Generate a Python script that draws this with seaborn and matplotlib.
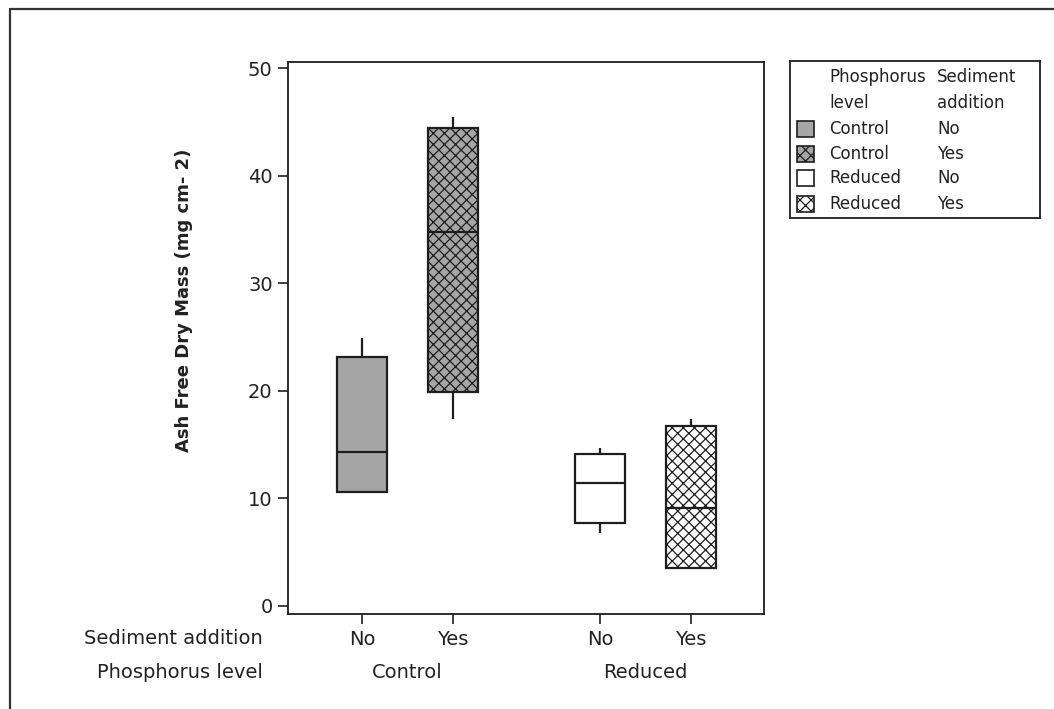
import numpy as np
import pandas as pd
import seaborn as sns
import matplotlib
matplotlib.use("Agg")
import matplotlib.pyplot as plt
from matplotlib.patches import Rectangle
from matplotlib.lines import Line2D
from matplotlib import transforms

# ---------------- data ----------------
phosphorus = ["Control", "Control", "Reduced", "Reduced"]
sediment = ["No", "Yes", "No", "Yes"]
# five-number summaries: lower whisker, Q1, median, Q3, upper whisker
control_no = [10.6, 10.6, 14.3, 23.2, 24.9]
control_yes = [17.4, 19.9, 34.8, 44.5, 45.5]
reduced_no = [6.8, 7.7, 11.4, 14.1, 14.7]
reduced_yes = [3.5, 3.5, 9.1, 16.7, 17.4]
y_ticks = [0, 10, 20, 30, 40, 50]
y_label = "Ash Free Dry Mass (mg cm- 2)"
row_labels = ["Sediment addition", "Phosphorus level"]
legend_headers = [("Phosphorus", "level"), ("Sediment", "addition")]

# ---------------- layout / style ----------------
positions = [1.0, 2.0, 3.615, 4.615]
fills = ["#a6a6a6", "#a6a6a6", "#ffffff", "#ffffff"]
hatched = [False, True, False, True]
text_color = "#222222"
line_color = "#1e1e1e"

sns.set_theme(style="ticks")
plt.rcParams["font.family"] = ["DejaVu Sans"]
plt.rcParams["hatch.linewidth"] = 0.9
plt.rcParams["hatch.color"] = "#111111"

groups = [f"{p} {s}" for p, s in zip(phosphorus, sediment)]
series = [control_no, control_yes, reduced_no, reduced_yes]
rows = []
for g, pos, vals in zip(groups, positions, series):
    for v in vals:
        rows.append({"group": g, "x": pos, "value": v})
df = pd.DataFrame(rows)

W, H = 1054, 709
fig = plt.figure(figsize=(W / 100, H / 100), dpi=100)
fig.patch.set_facecolor("white")

def px_rect(x0, y0, x1, y1):
    return [x0 / W, 1 - y1 / H, (x1 - x0) / W, (y1 - y0) / H]

ax = fig.add_axes(px_rect(288, 62, 764, 613.5))
ax.set_facecolor("white")

sns.boxplot(
    data=df, x="x", y="value", hue="group", native_scale=True,
    palette=dict(zip(groups, fills)), saturation=1, dodge=False,
    width=0.55, showcaps=False, showfliers=False, whis=1.5,
    linewidth=1.6, linecolor=line_color, legend=False, ax=ax,
)

HATCH = "xxx"
# hatch the "Yes" sediment boxes
for patch in ax.patches:
    verts = patch.get_path().vertices
    xc = np.mean(verts[:, 0])
    idx = int(np.argmin([abs(xc - p) for p in positions]))
    patch.set_edgecolor(line_color)
    if hatched[idx]:
        patch.set_hatch(HATCH)

ax.set_xlim(0.187, 5.417)
ax.set_ylim(-0.7, 50.6)
ax.set_yticks(y_ticks)
ax.set_xticks(positions)
ax.set_xticklabels(sediment)
ax.set_xlabel("")
ax.set_ylabel(y_label, fontsize=13, fontweight="bold", color=text_color)
ax.yaxis.set_label_coords(-0.20, 0.568)
ax.tick_params(axis="both", direction="out", length=7, width=1.2,
               colors=line_color, labelcolor=text_color, labelsize=14)
ax.tick_params(axis="x", pad=5)
ax.tick_params(axis="y", pad=4)
for s in ax.spines.values():
    s.set_visible(True)
    s.set_color(line_color)
    s.set_linewidth(1.3)

# second row of x labels (phosphorus level)
blend = transforms.blended_transform_factory(ax.transData, fig.transFigure)
for lvl in ["Control", "Reduced"]:
    xs = [p for p, ph in zip(positions, phosphorus) if ph == lvl]
    ax.text(np.mean(xs), 1 - 673 / H, lvl, transform=blend, ha="center",
            va="center", fontsize=14, color=text_color)

fig.text(263 / W, 1 - 638 / H, row_labels[0], ha="right", va="center",
         fontsize=14, color=text_color)
fig.text(263 / W, 1 - 673 / H, row_labels[1], ha="right", va="center",
         fontsize=14, color=text_color)

# ---------------- legend box ----------------
lax = fig.add_axes(px_rect(790, 61, 1040, 218))
lax.set_xlim(790, 1040)
lax.set_ylim(218, 61)
lax.set_xticks([])
lax.set_yticks([])
for s in lax.spines.values():
    s.set_color(line_color)
    s.set_linewidth(1.3)
col1, col2 = 829, 937
lax.text(col1, 77, legend_headers[0][0], va="center", ha="left", fontsize=12, color=text_color)
lax.text(col1, 103, legend_headers[0][1], va="center", ha="left", fontsize=12, color=text_color)
lax.text(col2, 77, legend_headers[1][0], va="center", ha="left", fontsize=12, color=text_color)
lax.text(col2, 103, legend_headers[1][1], va="center", ha="left", fontsize=12, color=text_color)
row_y = [129, 154, 178, 204]
for i, yy in enumerate(row_y):
    lax.add_patch(Rectangle((797, yy - 8), 17, 16, facecolor=fills[i],
                            edgecolor=line_color, linewidth=1.2,
                            hatch=HATCH if hatched[i] else None))
    lax.text(col1, yy, phosphorus[i], va="center", ha="left", fontsize=12, color=text_color)
    lax.text(col2, yy, sediment[i], va="center", ha="left", fontsize=12, color=text_color)

# outer frame of the picture
fig.add_artist(Line2D([10 / W, 10 / W], [0, 1 - 9 / H], transform=fig.transFigure,
                      color="#333333", linewidth=1.6))
fig.add_artist(Line2D([10 / W, 1], [1 - 9 / H, 1 - 9 / H], transform=fig.transFigure,
                      color="#333333", linewidth=1.6))

fig.savefig("out.png", dpi=100, facecolor="white")
